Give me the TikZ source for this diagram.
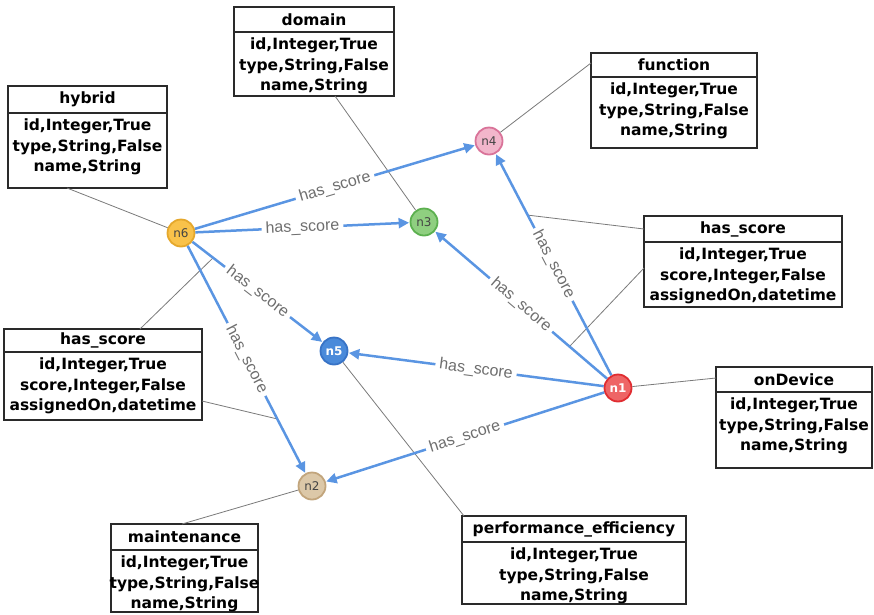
\documentclass[tikz,border=0pt]{standalone}
\usepackage{fontspec}
\setmainfont{DejaVu Sans}
\newfontfamily\edgefont{Liberation Sans}
\usetikzlibrary{arrows.meta,fit}

\definecolor{edgeblue}{HTML}{5A95E2}
\definecolor{labelgray}{HTML}{6E6E6E}
\definecolor{notegray}{HTML}{7A7A7A}
\definecolor{boxline}{HTML}{2A2A2A}
\definecolor{ntext}{HTML}{444444}
\definecolor{yelfill}{HTML}{F9C24A}\definecolor{yelline}{HTML}{E5A82C}
\definecolor{grnfill}{HTML}{8FCF80}\definecolor{grnline}{HTML}{5CB04F}
\definecolor{pnkfill}{HTML}{F2B6CB}\definecolor{pnkline}{HTML}{D97399}
\definecolor{blufill}{HTML}{4A8ADA}\definecolor{bluline}{HTML}{3873C6}
\definecolor{redfill}{HTML}{EE6566}\definecolor{redline}{HTML}{E02D31}
\definecolor{tanfill}{HTML}{DCC8A8}\definecolor{tanline}{HTML}{C2A57C}

\tikzset{
  gnode/.style={circle, minimum size=27pt, inner sep=0pt, line width=1.8pt,
    font=\fontsize{12}{13}\selectfont, text=ntext},
  gnodew/.style={gnode, text=white, font=\bfseries\fontsize{12}{13}\selectfont},
  rel/.style={draw=edgeblue, line width=2.5pt, -{Triangle[length=10.5pt,width=10pt]},
    shorten >=0.5pt},
  rellabel/.style={midway, sloped, fill=white, inner xsep=4pt, inner ysep=1pt,
    text=labelgray, font=\edgefont\fontsize{16}{17}\selectfont},
  note/.style={draw=notegray, line width=0.8pt},
  frame/.style={draw=boxline, line width=1.5pt, fill=white, inner sep=0pt},
  sepline/.style={draw=boxline, line width=1.1pt},
  boxtitle/.style={inner sep=0pt, text=black, font=\bfseries\fontsize{15.5}{20.5}\selectfont},
  boxbody/.style={inner sep=0pt, anchor=north, align=center, text=black,
    font=\bfseries\fontsize{15.5}{20.5}\selectfont}
}

% entity box: name, x1, y1, x2, y2, header line y, title, body lines
\newcommand\entity[8]{%
  \node[frame, fit={(#2,#3) (#4,#5)}] (#1) {};
  \draw[sepline] (#2,#6) -- (#4,#6);
  \node[boxtitle] (#1-title) at ({(#2+#4)/2},{(#3+#6)/2}) {#7};
  \node[boxbody] (#1-body) at ({(#2+#4)/2},{#6+6}) {#8};
}

\begin{document}
\begin{tikzpicture}[x=1pt, y=-1pt]
\useasboundingbox (0,0) rectangle (874,614);

% graph nodes
\node[gnode, fill=yelfill, draw=yelline] (n6) at (181,233) {n6};
\node[gnode, fill=grnfill, draw=grnline] (n3) at (424,222) {n3};
\node[gnode, fill=pnkfill, draw=pnkline] (n4) at (489,141) {n4};
\node[gnodew, fill=blufill, draw=bluline] (n5) at (334,351) {n5};
\node[gnodew, fill=redfill, draw=redline] (n1) at (618,388) {n1};
\node[gnode, fill=tanfill, draw=tanline] (n2) at (312,486) {n2};

% entity boxes
\entity{hybrid}{8}{86}{167}{188}{113}{hybrid}{id,Integer,True\\type,String,False\\name,String}
\entity{domain}{234}{7}{394}{96}{32}{domain}{id,Integer,True\\type,String,False\\name,String}
\entity{function}{591}{53}{757}{148}{77}{function}{id,Integer,True\\type,String,False\\name,String}
\entity{scoreR}{644}{216}{842}{307}{242}{has\_score}{id,Integer,True\\score,Integer,False\\assignedOn,datetime}
\entity{ondevice}{716}{367}{872}{468}{392}{onDevice}{id,Integer,True\\type,String,False\\name,String}
\entity{scoreL}{4}{329}{202}{420}{352}{has\_score}{id,Integer,True\\score,Integer,False\\assignedOn,datetime}
\entity{maint}{111}{524}{258}{612}{550}{maintenance}{id,Integer,True\\type,String,False\\name,String}
\entity{perf}{462}{516}{686}{604}{542}{performance\_efficiency}{id,Integer,True\\type,String,False\\name,String}

% attachment points on the relation edges
\path (n1.center) -- (n4.center) coordinate[pos=0.70] (e14);
\path (n1.center) -- (n3.center) coordinate[pos=0.25] (e13);
\path (n6.center) -- (n5.center) coordinate[pos=0.21] (e65);
\path (n6.center) -- (n2.center) coordinate[pos=0.735] (e62);

% attachment points on the boxes
\coordinate (hybrid-a) at (67,188);
\coordinate (domain-a) at (335,96);
\coordinate (function-a) at (591,63);
\coordinate (scoreR-a) at (644,229);
\coordinate (scoreR-b) at (644,268);
\coordinate (scoreL-a) at (140,329);
\coordinate (scoreL-b) at (202,401);
\coordinate (ondevice-a) at (716,378);
\coordinate (maint-a) at (182,524);
\coordinate (perf-a) at (464,516);

% thin annotation lines
\draw[note] (hybrid-a) -- (n6);
\draw[note] (domain-a) -- (n3);
\draw[note] (function-a) -- (n4);
\draw[note] (scoreR-a) -- (e14);
\draw[note] (scoreR-b) -- (e13);
\draw[note] (scoreL-a) -- (e65);
\draw[note] (scoreL-b) -- (e62);
\draw[note] (ondevice-a) -- (n1);
\draw[note] (maint-a) -- (n2);
\draw[note] (perf-a) -- (n5);

% relations
\draw[rel] (n6) -- node[rellabel] {has\_score} (n4);
\draw[rel] (n6) -- node[rellabel] {has\_score} (n3);
\draw[rel] (n6) -- node[rellabel] {has\_score} (n5);
\draw[rel] (n6) -- node[rellabel] {has\_score} (n2);
\draw[rel] (n1) -- node[rellabel] {has\_score} (n4);
\draw[rel] (n1) -- node[rellabel] {has\_score} (n3);
\draw[rel] (n1) -- node[rellabel] {has\_score} (n5);
\draw[rel] (n1) -- node[rellabel] {has\_score} (n2);
\end{tikzpicture}
\end{document}
